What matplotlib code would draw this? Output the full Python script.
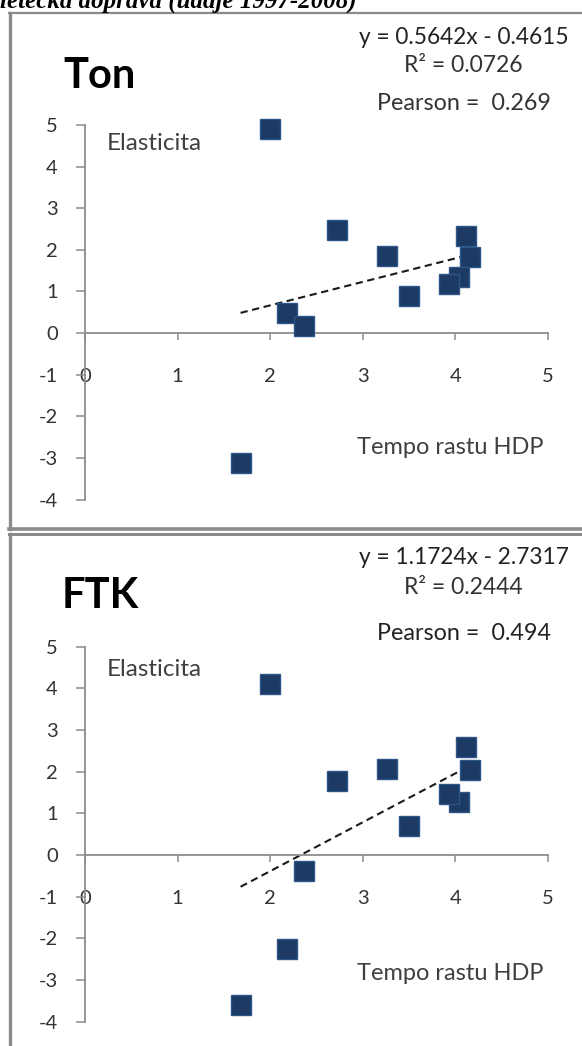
import matplotlib
matplotlib.use("Agg")
import matplotlib.pyplot as plt
from matplotlib.lines import Line2D

# ---- data ----
gdp_growth = [2.00, 2.72, 3.26, 4.11, 4.16, 4.04, 3.93, 3.50, 2.18, 2.37, 1.68]
elast_ton = [4.90, 2.48, 1.86, 2.34, 1.82, 1.34, 1.18, 0.88, 0.48, 0.18, -3.12]
elast_ftk = [4.10, 1.78, 2.06, 2.58, 2.04, 1.26, 1.46, 0.70, -2.26, -0.38, -3.60]

ton_fit = (0.5642, -0.4615)
ftk_fit = (1.1724, -2.7317)

panel_titles = ["Ton", "FTK"]
eq_texts = ["y = 0.5642x - 0.4615", "y = 1.1724x - 2.7317"]
r2_texts = ["R² = 0.0726", "R² = 0.2444"]
pearson_texts = ["Pearson =  0.269", "Pearson =  0.494"]
x_ticks = [0, 1, 2, 3, 4, 5]
y_ticks = [-4, -3, -2, -1, 0, 1, 2, 3, 4, 5]

W, H = 582, 1046
plt.rcParams['axes.unicode_minus'] = False
plt.rcParams['font.family'] = ['Lato', 'DejaVu Sans']
fig = plt.figure(figsize=(W / 100, H / 100), dpi=100)

def fx(px):
    return px / W

def fy(py):
    return 1 - py / H

# title cut off at top (as in the reference)
fig.text(fx(0), fy(8), "letecká doprava (údaje 1997-2008)", family="Liberation Serif",
         fontweight="bold", fontstyle="italic", fontsize=18, ha="left", va="baseline",
         color="black")

border = "#8a8a8a"
# top panel border
fig.add_artist(Line2D([fx(9), fx(600)], [fy(12.5), fy(12.5)], color=border, lw=1.6))
fig.add_artist(Line2D([fx(9.5), fx(9.5)], [fy(12.5), fy(529.5)], color=border, lw=2.4))
fig.add_artist(Line2D([fx(9), fx(600)], [fy(529.5), fy(529.5)], color=border, lw=2.6))
# bottom panel border
fig.add_artist(Line2D([fx(9), fx(600)], [fy(534), fy(534)], color=border, lw=2.2))
fig.add_artist(Line2D([fx(9.5), fx(9.5)], [fy(534), fy(1060)], color=border, lw=2.4))

axis_col = "#8c8c8c"
label_col = "#333333"
marker_col = "#1c3a64"

panels = [
    dict(y5=125.0, y_m4=499.6, ys=elast_ton, fit=ton_fit, title_y=76, eq_y=37, r2_y=65,
         p_y=103, el_y=143, tempo_y=447),
    dict(y5=646.5, y_m4=1021.8, ys=elast_ftk, fit=ftk_fit, title_y=596, eq_y=557, r2_y=588,
         p_y=634, el_y=669, tempo_y=973),
]

for i, p in enumerate(panels):
    left, right = 85, 548
    ax = fig.add_axes([fx(left), fy(p["y_m4"]), (right - left) / W,
                       (p["y_m4"] - p["y5"]) / H])
    ax.set_xlim(0, 5)
    ax.set_ylim(-4, 5)
    ax.patch.set_alpha(0)
    for s in ["top", "right"]:
        ax.spines[s].set_visible(False)
    ax.spines["bottom"].set_position(("data", 0))
    for s in ["left", "bottom"]:
        ax.spines[s].set_color(axis_col)
        ax.spines[s].set_linewidth(1.3)
    ax.set_xticks(x_ticks)
    ax.set_yticks(y_ticks)
    ax.tick_params(axis="x", direction="out", length=5, width=1.1, color=axis_col,
                   pad=20, labelsize=14.5, labelcolor=label_col)
    ax.tick_params(axis="y", direction="out", length=6.5, width=1.1, color=axis_col,
                   pad=13, labelsize=14.5, labelcolor=label_col)

    # trend line from equation
    a, b = p["fit"]
    xmin, xmax = min(gdp_growth), max(gdp_growth)
    ax.plot([xmin, xmax], [a * xmin + b, a * xmax + b], color="#1a1a1a", lw=1.5,
            ls=(0, (3.5, 2.2)), zorder=2, clip_on=False)
    ax.plot(gdp_growth, p["ys"], ls="none", marker="s", markersize=14,
            markerfacecolor=marker_col, markeredgecolor="#2f5688", markeredgewidth=1.0,
            zorder=3, clip_on=False)

    # texts
    fig.text(fx(100), fy(p["title_y"]), panel_titles[i], fontsize=30, fontweight="bold",
             ha="center", va="center", color="black")
    fig.text(fx(464), fy(p["eq_y"]), eq_texts[i], fontsize=16.3, ha="center", va="center",
             color="#222222")
    fig.text(fx(463), fy(p["r2_y"]), r2_texts[i], fontsize=16.5, ha="center", va="center",
             color="#333333")
    fig.text(fx(464), fy(p["p_y"]), pearson_texts[i], fontsize=16.8, ha="center",
             va="center", color="#333333" if i == 0 else "#222222")
    fig.text(fx(107), fy(p["el_y"]), "Elasticita", fontsize=17.5, ha="left", va="center",
             color="#404040")
    fig.text(fx(450), fy(p["tempo_y"]), "Tempo rastu HDP", fontsize=17, ha="center",
             va="center", color="#404040")

fig.savefig("out.png", dpi=100)
